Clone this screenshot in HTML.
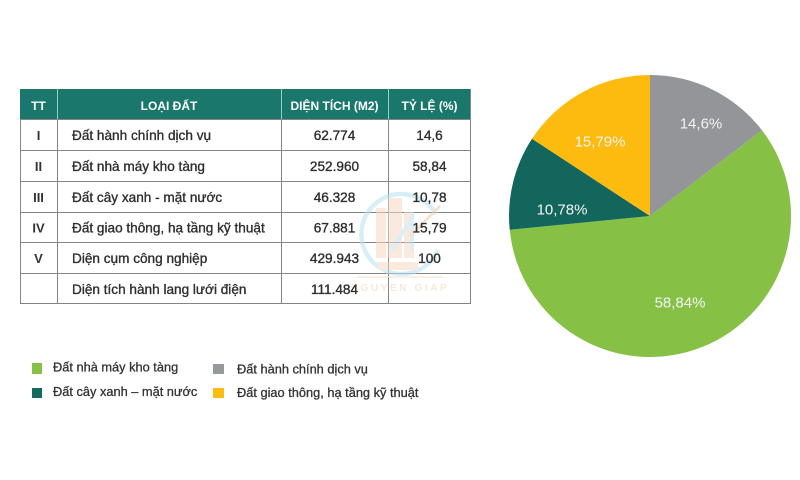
<!DOCTYPE html>
<html>
<head>
<meta charset="utf-8">
<style>
  html,body{margin:0;padding:0;background:#ffffff;}
  body{width:800px;height:480px;overflow:hidden;}
  svg{display:block;}
  .t{font-family:"Liberation Sans",Arial,sans-serif;}
</style>
</head>
<body>
<svg width="800" height="480" viewBox="0 0 800 480" xmlns="http://www.w3.org/2000/svg">
  <rect x="0" y="0" width="800" height="480" fill="#ffffff"/>

  <!-- TABLE -->
  <rect x="20" y="89" width="451" height="30" fill="#1a776b"/>
  <g stroke="#9fcbc4" stroke-width="1">
    <line x1="57.5" y1="89" x2="57.5" y2="119"/>
    <line x1="281.5" y1="89" x2="281.5" y2="119"/>
    <line x1="388.5" y1="89" x2="388.5" y2="119"/>
  </g>
  <g stroke="#858585" stroke-width="1" fill="none">
    <line x1="20.5" y1="119" x2="20.5" y2="304"/>
    <line x1="57.5" y1="119" x2="57.5" y2="304"/>
    <line x1="281.5" y1="119" x2="281.5" y2="304"/>
    <line x1="388.5" y1="119" x2="388.5" y2="304"/>
    <line x1="470.5" y1="89" x2="470.5" y2="304"/>
    <line x1="20" y1="119.5" x2="471" y2="119.5"/>
    <line x1="20" y1="150.5" x2="471" y2="150.5"/>
    <line x1="20" y1="181.5" x2="471" y2="181.5"/>
    <line x1="20" y1="212.5" x2="471" y2="212.5"/>
    <line x1="20" y1="242.5" x2="471" y2="242.5"/>
    <line x1="20" y1="273.5" x2="471" y2="273.5"/>
    <line x1="20" y1="303.5" x2="471" y2="303.5"/>
  </g>

  <!-- watermark -->
  <g opacity="0.55">
    <path d="M 436 214 A 40 40 0 1 0 438 250" fill="none" stroke="#b9e1f2" stroke-width="4.5"/>
    <g fill="#f6d9c4">
      <rect x="376" y="208" width="10" height="50"/>
      <rect x="388" y="198" width="14" height="60"/>
      <rect x="404" y="212" width="10" height="46"/>
      <rect x="378" y="262" width="40" height="8"/>
    </g>
    <path d="M 392 250 L 412 218 L 412 250" fill="none" stroke="#bfe3f3" stroke-width="4"/>
    <path d="M 410 236 L 440 206" stroke="#f3c9a6" stroke-width="3" fill="none"/>
    <rect x="357" y="276" width="86" height="2" fill="#f8e1d0"/>
    <text x="400" y="291" text-anchor="middle" class="t" font-size="10" font-weight="bold" letter-spacing="2.6" fill="#f5d3bb">NGUYEN GIAP</text>
  </g>

  <!-- header text -->
  <g class="t" font-size="12" font-weight="bold" fill="#ffffff" text-anchor="middle">
    <text x="38.5" y="110">TT</text>
    <text x="169" y="110">LOẠI ĐẤT</text>
    <text x="334.5" y="110">DIỆN TÍCH (M2)</text>
    <text x="429.5" y="110">TỶ LỆ (%)</text>
  </g>

  <!-- roman numerals -->
  <g class="t" font-size="13" font-weight="bold" fill="#333333" text-anchor="middle">
    <text x="38.5" y="140">I</text>
    <text x="38.5" y="171">II</text>
    <text x="38.5" y="202">III</text>
    <text x="38.5" y="232.5">IV</text>
    <text x="38.5" y="263">V</text>
  </g>

  <!-- body text -->
  <g class="t" font-size="13.6" fill="#2e2e2e" stroke="#2e2e2e" stroke-width="0.35">
    <text x="72" y="140">Đất hành chính dịch vụ</text>
    <text x="72" y="171">Đất nhà máy kho tàng</text>
    <text x="72" y="202">Đất cây xanh - mặt nước</text>
    <text x="72" y="232.5">Đất giao thông, hạ tầng kỹ thuật</text>
    <text x="72" y="263">Diện cụm công nghiệp</text>
    <text x="72" y="294">Diện tích hành lang lưới điện</text>
  </g>
  <g class="t" font-size="13.6" fill="#2e2e2e" stroke="#2e2e2e" stroke-width="0.35" text-anchor="middle">
    <text x="334.5" y="140">62.774</text>
    <text x="334.5" y="171">252.960</text>
    <text x="334.5" y="202">46.328</text>
    <text x="334.5" y="232.5">67.881</text>
    <text x="334.5" y="263">429.943</text>
    <text x="334.5" y="294">111.484</text>
    <text x="429.5" y="140">14,6</text>
    <text x="429.5" y="171">58,84</text>
    <text x="429.5" y="202">10,78</text>
    <text x="429.5" y="232.5">15,79</text>
    <text x="429.5" y="263">100</text>
  </g>

  <!-- LEGEND -->
  <rect x="32" y="363" width="10" height="11" fill="#86c045"/>
  <rect x="32" y="388" width="10" height="10" fill="#136a5e"/>
  <rect x="213" y="364" width="11" height="10" fill="#97989b"/>
  <rect x="213" y="388" width="11" height="10" fill="#fdbc12"/>
  <g class="t" font-size="12.8" fill="#333333" stroke="#333333" stroke-width="0.3">
    <text x="53" y="371.5">Đất nhà máy kho tàng</text>
    <text x="53" y="396">Đất cây xanh – mặt nước</text>
    <text x="237" y="373.5">Đất hành chính dịch vụ</text>
    <text x="237" y="397">Đất giao thông, hạ tầng kỹ thuật</text>
  </g>

  <!-- PIE -->
  <path d="M650,216 L650,75 A141,141 0 0 1 762.0,130.3 Z" fill="#939598"/>
  <path d="M650,216 L762.0,130.3 A141,141 0 1 1 509.7,229.8 Z" fill="#86c045"/>
  <path d="M650,216 L509.7,229.8 A141,141 0 0 1 532.0,138.8 Z" fill="#12665c"/>
  <path d="M650,216 L532.0,138.8 A141,141 0 0 1 650,75 Z" fill="#fdbb10"/>

  <g class="t" font-size="15" fill="#f4f4f4" text-anchor="middle">
    <text x="701" y="128.5">14,6%</text>
    <text x="600" y="146.5">15,79%</text>
    <text x="562" y="214.5">10,78%</text>
    <text x="680" y="307.5">58,84%</text>
  </g>
</svg>
</body>
</html>
